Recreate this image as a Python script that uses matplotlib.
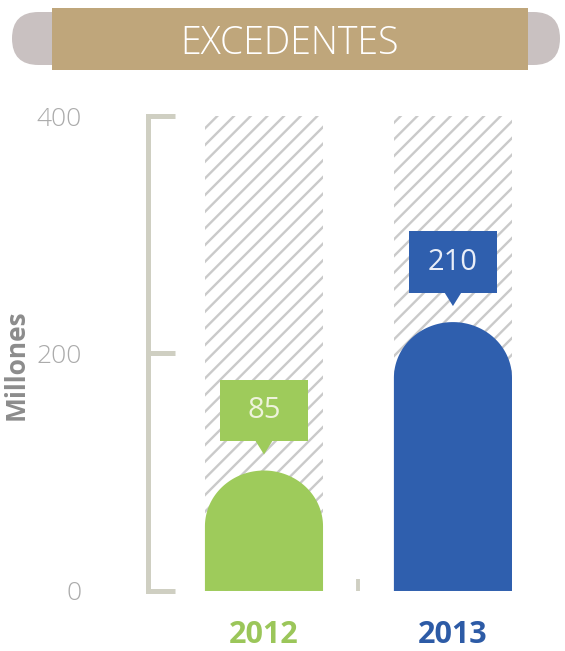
import numpy as np
import matplotlib
matplotlib.use("Agg")
import matplotlib.pyplot as plt
from matplotlib.patches import Polygon, Rectangle, FancyBboxPatch
from matplotlib.ticker import FixedLocator

# ---- data -------------------------------------------------------------
years = ["2012", "2013"]
excedentes = [85, 210]          # millones
y_ticks = [0, 200, 400]
y_max = 400
title = "EXCEDENTES"
y_label = "Millones"

bar_colors = ["#9ecb5b", "#2f5fae"]
year_colors = ["#9bc65a", "#2d5ba6"]
value_text_colors = ["#eef3dc", "#e9eef8"]

# ---- style ------------------------------------------------------------
FONT = ["Open Sans", "DejaVu Sans"]
plt.rcParams["font.family"] = FONT
plt.rcParams["hatch.linewidth"] = 1.7
plt.rcParams["hatch.color"] = "#cacaca"

axis_color = "#cfcfc2"
tick_text_color = "#ababab"
label_color = "#8c8c8c"
gold = "#bfa67b"
pill = "#c9c1c1"

W, H = 565, 651
fig = plt.figure(figsize=(W / 100, H / 100), dpi=100)
fig.patch.set_facecolor("white")

# ---- main axes --------------------------------------------------------
bar_w = 0.625
ax = fig.add_axes([0, 0.0922, 1, 0.7296])
ax.set_xlim(-1.397, 1.593)
ax.set_ylim(0, y_max)
x = np.arange(len(years))

# hatched full-scale background
ax.bar(x, [y_max] * len(x), width=bar_w, color="white", edgecolor="#cacaca",
       hatch="//", linewidth=0, zorder=1)

# dome-topped bars
dome_h = 47.0
for xi, v, c in zip(x, excedentes, bar_colors):
    shoulder = v - 0.65 * dome_h
    th = np.linspace(np.pi, 0, 80)
    arc = np.column_stack([xi + bar_w / 2 * np.cos(th), shoulder + dome_h * np.sin(th)])
    pts = np.vstack([[xi - bar_w / 2, 0], arc, [xi + bar_w / 2, 0]])
    ax.add_patch(Polygon(pts, closed=True, facecolor=c, edgecolor="none", zorder=2))

    # value callout with pointer
    top = shoulder + dome_h
    tip = top + 13.5
    ptr_h, box_h, box_w, ptr_w = 11.0, 52.0, 0.466, 0.045
    base = tip + ptr_h
    ax.add_patch(Polygon([[xi - ptr_w, base + 0.5], [xi, tip], [xi + ptr_w, base + 0.5]],
                         closed=True, facecolor=c, edgecolor="none", zorder=3))
    ax.add_patch(Rectangle((xi - box_w / 2, base), box_w, box_h, facecolor=c,
                           edgecolor="none", zorder=3))
    ax.text(xi, base + box_h / 2, f"{v}", ha="center", va="center", fontsize=21,
            color=value_text_colors[int(xi)], zorder=4)

# bracket-style y axis
for s in ["top", "right", "bottom"]:
    ax.spines[s].set_visible(False)
sp = ax.spines["left"]
sp.set_position(("data", -0.614))
sp.set_bounds(0, y_max)
sp.set_color(axis_color)
sp.set_linewidth(3.6)
sp.set_capstyle("projecting")
ax.set_yticks(y_ticks)
ax.set_yticklabels([str(t) for t in y_ticks])
ax.tick_params(axis="y", direction="in", length=19.5, width=3.6, color=axis_color,
               labelcolor=tick_text_color, labelsize=19, pad=47.5)
for t in ax.get_yticklabels():
    t.set_fontweight("light")

ax.set_xticks(x)
ax.set_xticklabels(years, fontsize=22, fontweight="bold")
for t, c in zip(ax.get_xticklabels(), year_colors):
    t.set_color(c)
ax.tick_params(axis="x", which="major", length=0, pad=21)
ax.xaxis.set_minor_locator(FixedLocator([0.5]))
ax.tick_params(axis="x", which="minor", direction="in", length=8.5, width=2.8,
               color=axis_color)

ax.set_ylabel(y_label, fontsize=19, fontweight="bold", color=label_color)
ax.yaxis.set_label_coords(0.052, 0.476)

# ---- title banner -----------------------------------------------------
bx = fig.add_axes([0, 1 - 80 / H, 1, 80 / H])
bx.set_xlim(0, W)
bx.set_ylim(80, 0)
bx.axis("off")
bx.add_patch(FancyBboxPatch((12, 12), 80, 53, boxstyle="round,pad=0,rounding_size=26.5",
                            facecolor=pill, edgecolor="none"))
bx.add_patch(FancyBboxPatch((470, 12), 90, 53, boxstyle="round,pad=0,rounding_size=26.5",
                            facecolor=pill, edgecolor="none"))
bx.add_patch(Rectangle((52, 8), 476, 62, facecolor=gold, edgecolor="none"))
bx.text(290, 44, title, ha="center", va="center", fontsize=27, color="white",
        fontweight="light")

fig.savefig("out.png", dpi=100)
